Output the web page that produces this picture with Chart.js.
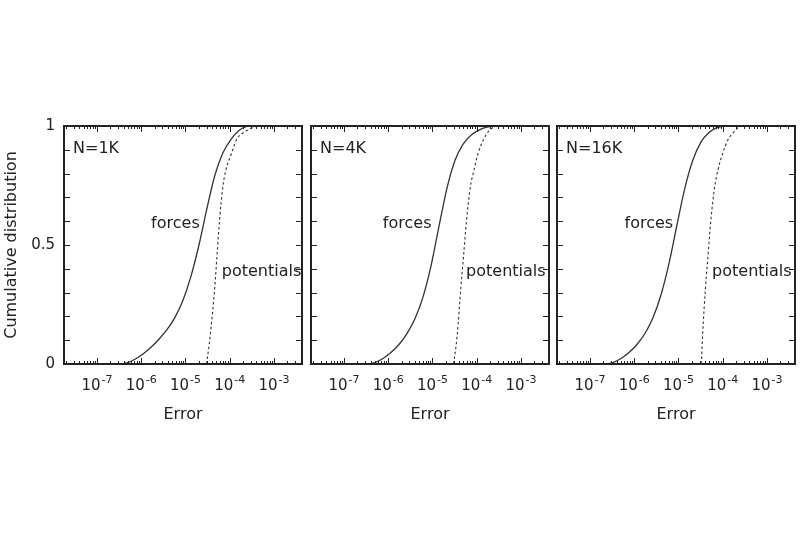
<!DOCTYPE html>
<html>
<head>
<meta charset="utf-8">
<script src="https://cdn.jsdelivr.net/npm/chart.js@4.4.1/dist/chart.umd.min.js"></script>
<style>
  html, body { margin: 0; padding: 0; background: #fff; }
  #wrap { position: relative; width: 800px; height: 533px; }
  #wrap canvas { position: absolute; left: 0; top: 0; }
</style>
</head>
<body>
<div id="wrap">
  <canvas id="p0" width="800" height="533"></canvas>
  <canvas id="p1" width="800" height="533"></canvas>
  <canvas id="p2" width="800" height="533"></canvas>
</div>
<script>
"use strict";

// ---- data ----------------------------------------------------------------
const panelNames = ["N=1K", "N=4K", "N=16K"];

// forces: error (x) and cumulative fraction (y), one pair per panel
const forceErr1K = [2e-8, 3.14e-7, 4.77e-7, 7.22e-7, 1.10e-6, 1.66e-6, 2.52e-6, 3.82e-6, 5.79e-6, 8.79e-6, 1.33e-5, 2.02e-5, 3.06e-5, 4.64e-5, 7.04e-5, 1.07e-4, 1.62e-4, 2.45e-4, 3.72e-4, 4.3e-3];
const forceCdf1K = [0, 0, 0.005, 0.020, 0.042, 0.070, 0.104, 0.144, 0.196, 0.268, 0.368, 0.500, 0.654, 0.794, 0.888, 0.944, 0.981, 0.998, 1, 1];

const forceErr4K = [2e-8, 3.31e-7, 5.02e-7, 7.61e-7, 1.15e-6, 1.75e-6, 2.65e-6, 4.02e-6, 6.10e-6, 9.25e-6, 1.40e-5, 2.13e-5, 3.22e-5, 4.89e-5, 7.41e-5, 1.12e-4, 1.71e-4, 2.58e-4, 4.3e-3];
const forceCdf4K = [0, 0, 0.006, 0.023, 0.048, 0.082, 0.128, 0.190, 0.281, 0.411, 0.577, 0.739, 0.855, 0.923, 0.961, 0.983, 0.995, 1, 1];

const forceErr16K = [2e-8, 2.18e-7, 3.31e-7, 5.02e-7, 7.61e-7, 1.15e-6, 1.75e-6, 2.65e-6, 4.02e-6, 6.10e-6, 9.25e-6, 1.40e-5, 2.13e-5, 3.22e-5, 4.89e-5, 7.41e-5, 1.12e-4, 4.3e-3];
const forceCdf16K = [0, 0, 0.006, 0.023, 0.048, 0.082, 0.128, 0.194, 0.290, 0.422, 0.584, 0.740, 0.858, 0.932, 0.973, 0.993, 1, 1];

// potentials: shared cumulative levels, error per panel
const potentialLevels = [0, 0.115, 0.325, 0.465, 0.605, 0.745, 0.815, 0.885, 0.94, 0.98, 1, 1];
const potErr1K  = [3.0e-5, 3.6e-5, 4.6e-5, 5.2e-5, 5.9e-5, 7.0e-5, 8.2e-5, 1.1e-4, 1.4e-4, 2.4e-4, 4.8e-4, 4.3e-3];
const potErr4K  = [3.0e-5, 3.6e-5, 4.4e-5, 5.1e-5, 5.9e-5, 7.2e-5, 8.7e-5, 1.07e-4, 1.4e-4, 1.9e-4, 3.0e-4, 4.3e-3];
const potErr16K = [3.3e-5, 3.5e-5, 4.1e-5, 4.7e-5, 5.4e-5, 6.6e-5, 7.8e-5, 1.0e-4, 1.3e-4, 1.9e-4, 2.6e-4, 4.3e-3];

const forceErrors     = [forceErr1K, forceErr4K, forceErr16K];
const forceCdfs       = [forceCdf1K, forceCdf4K, forceCdf16K];
const potentialErrors = [potErr1K, potErr4K, potErr16K];

// where the in-plot curve names sit (x in error units, y in cdf units)
const forceLabelX     = [2.1e-5, 9.5e-6, 7.6e-6];
const potentialLabelX = [6.6e-5, 5.75e-5, 5.75e-5];
const forceLabelY     = 0.588;
const potentialLabelY = 0.387;

// axes
const xMin = 1.8e-8;
const xMax = 4.3e-3;
const xDecades   = [1e-7, 1e-6, 1e-5, 1e-4, 1e-3];
const xExponents = ["-7", "-6", "-5", "-4", "-3"];
const yTickValues  = [0, 0.1, 0.2, 0.3, 0.4, 0.5, 0.6, 0.7, 0.8, 0.9, 1];
const yLabelValues = [0, 0.5, 1];
const yLabelTexts  = ["0", "0.5", "1"];

// ---- look ----------------------------------------------------------------
const INK  = "#222";
const LINE = "#333";
const FONT = "'DejaVu Sans', sans-serif";

const PANEL_LEFT = [64, 311, 557];
const PANEL_W    = 238;
const PLOT_TOP   = 126;
const PLOT_BOT   = 364;

// log minor tick positions: 1..9 x each decade inside the range
const xTickMarks = [];
for (let e = -8; e <= -3; e++) {
  for (let m = 1; m <= 9; m++) {
    const v = m * Math.pow(10, e);
    if (v >= xMin && v <= xMax) xTickMarks.push(v);
  }
}

function isDecade(v) {
  const l = Math.log10(v);
  return Math.abs(l - Math.round(l)) < 1e-6;
}

function toPoints(xs, ys) {
  return xs.map((x, i) => ({ x, y: ys[i] }));
}

function framePlugin(i) {
  return {
    id: "frame" + i,
    afterDraw(chart) {
      const { ctx, chartArea: a, scales } = chart;
      const x = scales.x, y = scales.y;
      ctx.save();

      // inward tick marks on all four sides
      ctx.strokeStyle = INK;
      ctx.lineWidth = 1;
      ctx.beginPath();
      y.ticks.forEach((t) => {
        const py = Math.round(y.getPixelForValue(t.value)) + 0.5;
        ctx.moveTo(a.left, py);  ctx.lineTo(a.left + 6, py);
        ctx.moveTo(a.right, py); ctx.lineTo(a.right - 6, py);
      });
      x.ticks.forEach((t) => {
        const px = Math.round(x.getPixelForValue(t.value)) + 0.5;
        const len = isDecade(t.value) ? 6 : 3;
        ctx.moveTo(px, a.bottom); ctx.lineTo(px, a.bottom - len);
        ctx.moveTo(px, a.top);    ctx.lineTo(px, a.top + len);
      });
      ctx.stroke();

      // frame
      ctx.lineWidth = 2;
      ctx.strokeRect(a.left, a.top, a.right - a.left, a.bottom - a.top);

      // x tick labels: 10 with raised exponent
      ctx.fillStyle = INK;
      ctx.textBaseline = "middle";
      ctx.textAlign = "left";
      xDecades.forEach((v, k) => {
        const px = x.getPixelForValue(v);
        ctx.font = "15px " + FONT;
        const wBase = ctx.measureText("10").width;
        ctx.font = "11px " + FONT;
        const wExp = ctx.measureText(xExponents[k]).width;
        const x0 = px - (wBase + wExp + 1) / 2;
        ctx.font = "15px " + FONT;
        ctx.fillText("10", x0, a.bottom + 22);
        ctx.font = "11px " + FONT;
        ctx.fillText(xExponents[k], x0 + wBase + 1, a.bottom + 16);
      });

      // curve names and panel name
      ctx.font = "16px " + FONT;
      ctx.textAlign = "right";
      ctx.fillText("forces", x.getPixelForValue(forceLabelX[i]), y.getPixelForValue(forceLabelY));
      ctx.textAlign = "left";
      ctx.fillText("potentials", x.getPixelForValue(potentialLabelX[i]), y.getPixelForValue(potentialLabelY));
      ctx.fillText(panelNames[i], a.left + 9, a.top + 23);

      ctx.restore();
    },
  };
}

function makePanel(i) {
  const canvas = document.getElementById("p" + i);
  const first = i === 0;
  const yW = first ? 64 : 0;
  const xH = 60;

  new Chart(canvas, {
    type: "line",
    data: {
      datasets: [
        {
          label: "forces",
          data: toPoints(forceErrors[i], forceCdfs[i]),
          borderColor: LINE,
          borderWidth: 1.3,
          pointRadius: 0,
          cubicInterpolationMode: "monotone",
          fill: false,
        },
        {
          label: "potentials",
          data: toPoints(potentialErrors[i], potentialLevels),
          borderColor: LINE,
          borderWidth: 1.1,
          borderDash: [2.5, 2.5],
          pointRadius: 0,
          cubicInterpolationMode: "monotone",
          fill: false,
        },
      ],
    },
    options: {
      responsive: false,
      animation: false,
      events: [],
      layout: {
        padding: {
          left: PANEL_LEFT[i] - yW,
          right: 800 - PANEL_LEFT[i] - PANEL_W,
          top: PLOT_TOP,
          bottom: 533 - PLOT_BOT - xH,
        },
      },
      plugins: { legend: { display: false }, tooltip: { enabled: false } },
      scales: {
        x: {
          type: "logarithmic",
          min: xMin,
          max: xMax,
          grid: { display: false, drawTicks: false },
          border: { display: false },
          ticks: { display: false },
          afterBuildTicks: (s) => { s.ticks = xTickMarks.map((v) => ({ value: v })); },
          afterFit: (s) => { s.height = xH; },
          title: {
            display: true,
            text: "Error",
            color: INK,
            font: { family: FONT, size: 16 },
            padding: { top: 4, bottom: 0 },
          },
        },
        y: {
          type: "linear",
          min: 0,
          max: 1,
          grid: { display: false, drawTicks: false },
          border: { display: false },
          afterBuildTicks: (s) => { s.ticks = yTickValues.map((v) => ({ value: v })); },
          afterFit: (s) => { s.width = yW; },
          ticks: {
            display: first,
            autoSkip: false,
            padding: 9,
            color: INK,
            font: { family: FONT, size: 15 },
            callback: (v) => {
              const k = yLabelValues.findIndex((u) => Math.abs(u - v) < 1e-9);
              return k >= 0 ? yLabelTexts[k] : "";
            },
          },
          title: {
            display: first,
            text: "Cumulative distribution",
            color: INK,
            font: { family: FONT, size: 16 },
            padding: { top: 2, bottom: 0 },
          },
        },
      },
    },
    plugins: [framePlugin(i)],
  });
}

[0, 1, 2].forEach(makePanel);
</script>
</body>
</html>
